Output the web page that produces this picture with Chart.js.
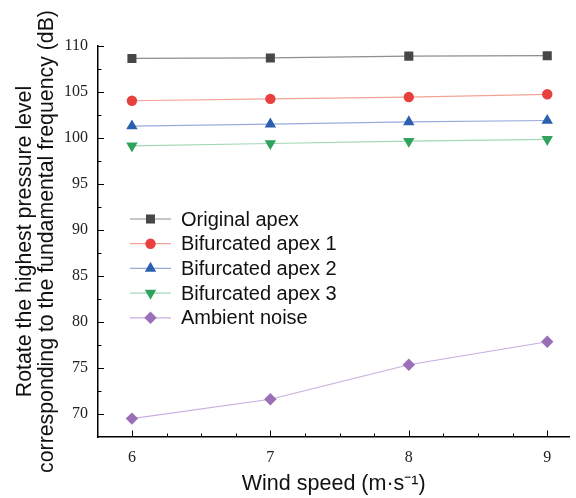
<!DOCTYPE html>
<html>
<head>
<meta charset="utf-8">
<script src="https://cdn.jsdelivr.net/npm/chart.js@4/dist/chart.umd.min.js"></script>
<style>
  html, body { margin: 0; padding: 0; background: #fff; }
  #wrap { width: 576px; height: 498px; }
</style>
</head>
<body>
<div id="wrap"><canvas id="noiseChart" width="576" height="498"></canvas></div>
<script>
// values
const windSpeeds = [6, 7, 8, 9]
const originalApex = [108.65, 108.7, 108.9, 108.95]
const bifApex1 = [104.05, 104.25, 104.45, 104.75]
const bifApex2 = [101.3, 101.5, 101.75, 101.9]
const bifApex3 = [99.15, 99.4, 99.65, 99.85]
const ambientNoise = [69.5, 71.6, 75.35, 77.85]
const seriesNames = ['Original apex', 'Bifurcated apex 1', 'Bifurcated apex 2', 'Bifurcated apex 3', 'Ambient noise']
const yTicks = [70, 75, 80, 85, 90, 95, 100, 105, 110]
const yMinorStep = 2.5
const xMinorStep = 0.25

const sans = '"Liberation Sans", Arial, sans-serif'
const serif = '"Liberation Serif", "Times New Roman", serif'

function series (label, values, marker, line, style, radius, rotation) {
  return {
    label: label,
    data: values.map((v, i) => ({ x: windSpeeds[i], y: v })),
    borderColor: line,
    borderWidth: 1.2,
    backgroundColor: marker,
    pointBackgroundColor: marker,
    pointBorderColor: marker,
    pointBorderWidth: 0,
    pointStyle: style,
    pointRadius: radius,
    pointRotation: rotation || 0,
    tension: 0
  }
}

// inward major/minor tick marks, placed with the chart scales
const tickMarks = {
  id: 'tickMarks',
  afterDraw (chart) {
    const ctx = chart.ctx
    const xs = chart.scales.x
    const ys = chart.scales.y
    ctx.save()
    ctx.strokeStyle = '#000'
    ctx.lineWidth = 1
    ctx.beginPath()
    for (let v = ys.min + yMinorStep; v <= ys.max + 0.001; v += yMinorStep) {
      const py = Math.round(ys.getPixelForValue(v)) + 0.5
      const len = Math.abs(v % 5) < 0.01 ? 6 : 3.5
      ctx.moveTo(xs.left, py)
      ctx.lineTo(xs.left + len, py)
    }
    for (let v = 6; v <= xs.max + 0.001; v += xMinorStep) {
      const px = Math.round(xs.getPixelForValue(v)) + 0.5
      const len = Math.abs(v % 1) < 0.01 ? 6.5 : 3.5
      ctx.moveTo(px, ys.bottom)
      ctx.lineTo(px, ys.bottom - len)
    }
    ctx.stroke()
    ctx.restore()
  }
}

// legend inside the plot, like the original figure
const innerLegend = {
  id: 'innerLegend',
  afterDraw (chart) {
    const ctx = chart.ctx
    const area = chart.chartArea
    const x0 = area.left + 32
    const y0 = 219
    const rowH = 24.7
    ctx.save()
    chart.data.datasets.forEach((ds, i) => {
      const y = y0 + i * rowH
      ctx.strokeStyle = ds.borderColor
      ctx.lineWidth = 1.2
      ctx.beginPath()
      ctx.moveTo(x0, y)
      ctx.lineTo(x0 + 41, y)
      ctx.stroke()
      ctx.fillStyle = ds.pointBackgroundColor
      Chart.helpers.drawPoint(ctx, {
        pointStyle: ds.pointStyle,
        radius: ds.pointRadius,
        rotation: ds.pointRotation,
        borderWidth: 0
      }, x0 + 20.5, y)
      ctx.fillStyle = '#111'
      ctx.font = '20px ' + sans
      ctx.textBaseline = 'middle'
      ctx.textAlign = 'left'
      ctx.fillText(ds.label, x0 + 51, y + 1)
    })
    ctx.restore()
  }
}

const ctx = document.getElementById('noiseChart').getContext('2d')
const noiseChart = new Chart(ctx, {
  type: 'line',
  data: {
    datasets: [
      series(seriesNames[0], originalApex, '#474747', '#8e8e8e', 'rect', 6.4),
      series(seriesNames[1], bifApex1, '#e8403e', '#f3a396', 'circle', 5.2),
      series(seriesNames[2], bifApex2, '#2c5fae', '#98acdc', 'triangle', 6.6),
      series(seriesNames[3], bifApex3, '#2fa35d', '#a2d8b4', 'triangle', 6.6, 180),
      series(seriesNames[4], ambientNoise, '#9b6fb8', '#c9addf', 'rectRot', 6.2)
    ]
  },
  options: {
    responsive: false,
    animation: false,
    layout: { padding: { top: 46, right: 6, left: 0, bottom: 0 } },
    plugins: {
      legend: { display: false },
      tooltip: { enabled: false }
    },
    scales: {
      x: {
        type: 'linear',
        min: 5.755,
        max: 9.16,
        afterBuildTicks: s => { s.ticks = windSpeeds.map(v => ({ value: v })) },
        afterFit: s => { s.height = 61 },
        grid: { display: false, drawTicks: false },
        border: { display: true, color: '#000', width: 1.5 },
        ticks: {
          padding: 11,
          color: '#222',
          font: { family: serif, size: 16 }
        },
        title: {
          display: true,
          text: 'Wind speed (m·s⁻¹)',
          color: '#111',
          font: { family: sans, size: 21.5, lineHeight: 1.2 },
          padding: { top: 0, bottom: 1.5 }
        }
      },
      y: {
        min: 67.5,
        max: 110,
        afterBuildTicks: s => { s.ticks = yTicks.map(v => ({ value: v })) },
        afterFit: s => { s.width = 98 },
        grid: { display: false, drawTicks: false },
        border: { display: true, color: '#000', width: 1.5 },
        ticks: {
          padding: 10,
          color: '#222',
          font: { family: serif, size: 16 }
        },
        title: {
          display: true,
          text: ['Rotate the highest pressure level', 'corresponding to the fundamental frequency (dB)'],
          color: '#111',
          font: { family: sans, size: 21.3, lineHeight: 1.05 },
          padding: { top: 14, bottom: 0 }
        }
      }
    }
  },
  plugins: [tickMarks, innerLegend]
})
</script>
</body>
</html>
